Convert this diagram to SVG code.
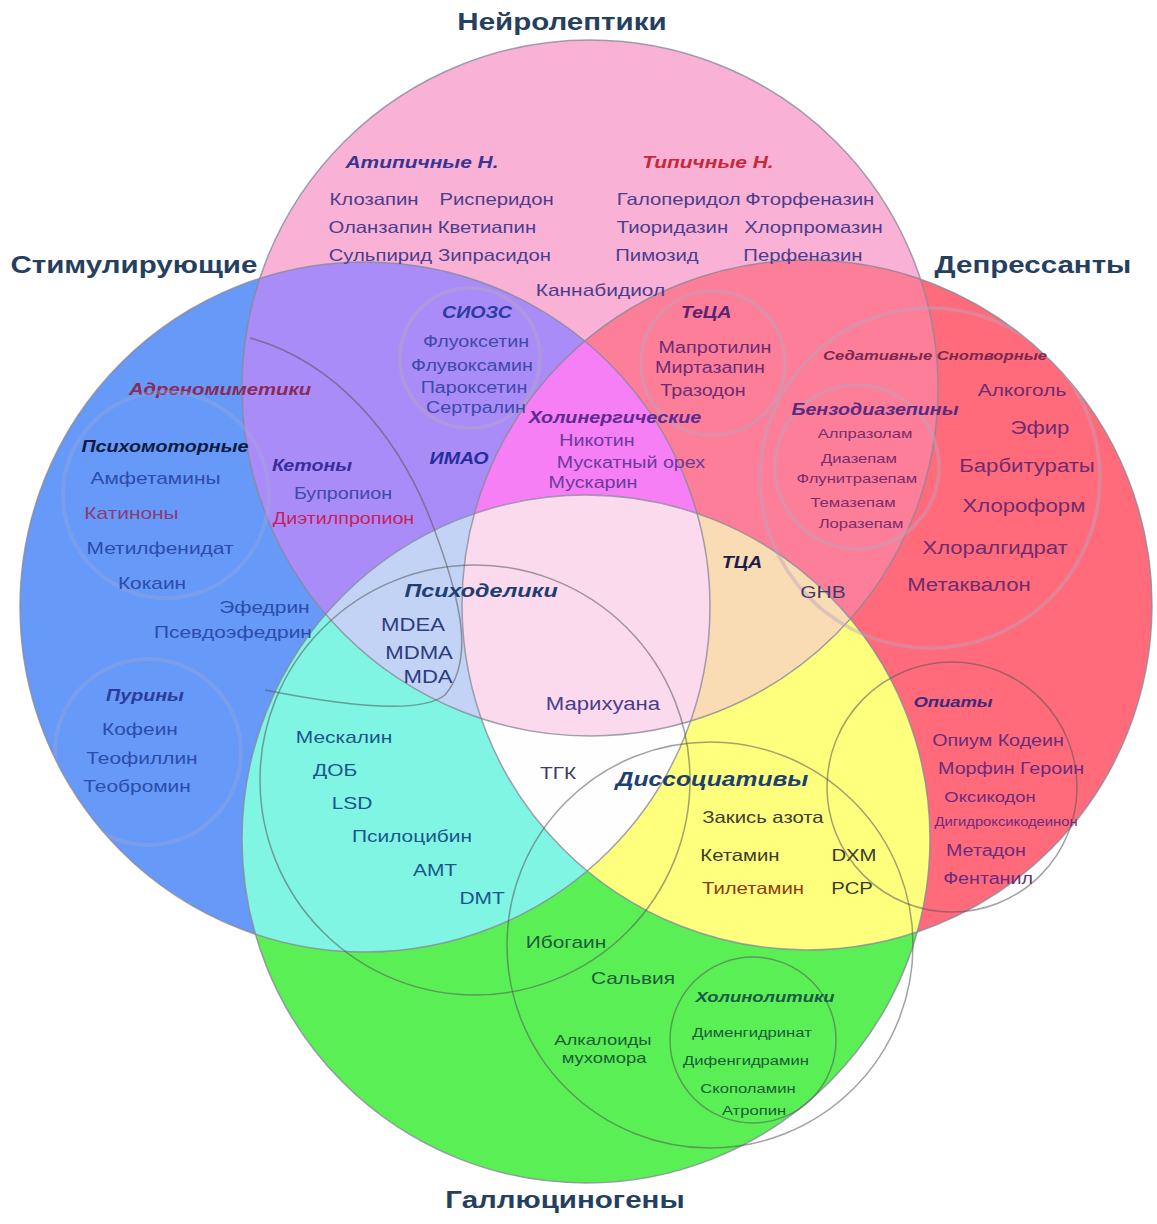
<svg xmlns="http://www.w3.org/2000/svg" width="1157" height="1224" viewBox="0 0 1157 1224">
<style>
text{font-family:"Liberation Sans",Arial,sans-serif;text-anchor:middle}
.h{font-weight:bold;font-style:italic}
.title{font-weight:bold;font-size:24px;fill:#263f5f}
.s12{font-size:12px}.s13{font-size:13.5px}.s15{font-size:15px}.s16{font-size:16px}.s165{font-size:16.5px}.s17{font-size:17px}.s18{font-size:18px}.s19{font-size:19px}.s20{font-size:20px}
.outline{fill:none;stroke:#8a8a9a;stroke-opacity:.8;stroke-width:1.5}
.ring{fill:none;stroke:rgb(185,165,190);stroke-opacity:.45;stroke-width:3.5}
.ringb{fill:none;stroke:rgb(160,170,215);stroke-opacity:.35;stroke-width:4}
.line{fill:none;stroke:#555;stroke-opacity:.55;stroke-width:1.5}
</style>
<defs>
<clipPath id="cP"><circle cx="590" cy="388" r="348"/></clipPath>
<clipPath id="cB"><circle cx="365" cy="607" r="345"/></clipPath>
<clipPath id="cR"><circle cx="807" cy="605" r="345"/></clipPath>
<clipPath id="cG"><circle cx="586" cy="839" r="344"/></clipPath>
</defs>
<rect width="1157" height="1224" fill="#ffffff"/>
<g id="regions">
<circle cx="590" cy="388" r="348" fill="#f9b2d5"/>
<circle cx="365" cy="607" r="345" fill="#6699f8"/>
<circle cx="807" cy="605" r="345" fill="#ff6b7b"/>
<circle cx="586" cy="839" r="344" fill="#5af055"/>
<g clip-path="url(#cB)"><circle cx="590" cy="388" r="348" fill="#aa8cf8"/></g>
<g clip-path="url(#cR)"><circle cx="590" cy="388" r="348" fill="#fd7e99"/></g>
<g clip-path="url(#cB)"><circle cx="586" cy="839" r="344" fill="#80f5e4"/></g>
<g clip-path="url(#cR)"><circle cx="586" cy="839" r="344" fill="#ffff7e"/></g>
<g clip-path="url(#cB)"><g clip-path="url(#cR)"><circle cx="590" cy="388" r="348" fill="#f77ff5"/></g></g>
<g clip-path="url(#cB)"><g clip-path="url(#cG)"><circle cx="590" cy="388" r="348" fill="#c3d3f6"/></g></g>
<g clip-path="url(#cR)"><g clip-path="url(#cG)"><circle cx="590" cy="388" r="348" fill="#fadcb4"/></g></g>
<g clip-path="url(#cB)"><g clip-path="url(#cR)"><circle cx="586" cy="839" r="344" fill="#fefefe"/></g></g>
<g clip-path="url(#cB)"><g clip-path="url(#cR)"><g clip-path="url(#cG)"><circle cx="590" cy="388" r="348" fill="#fcdaee"/></g></g></g>
</g>
<g id="outlines">
<circle class="outline" cx="590" cy="388" r="348"/>
<circle class="outline" cx="365" cy="607" r="345"/>
<circle class="outline" cx="807" cy="605" r="345"/>
<circle class="outline" cx="586" cy="839" r="344"/>
</g>
<g id="neuroleptics">
<g transform="scale(1.23 1)">
<text class="title" x="456.9" y="30">Нейролептики</text>
</g>
<g id="atypical" transform="scale(1.23 1)" fill="#4b3d8e">
<text class="h s17" x="343.1" y="168" fill="#3a3590">Атипичные Н.</text>
<text class="s165" x="304.1" y="205">Клозапин</text>
<text class="s165" x="403.7" y="205">Рисперидон</text>
<text class="s165" x="309.3" y="233">Оланзапин</text>
<text class="s165" x="395.9" y="233">Кветиапин</text>
<text class="s165" x="309.3" y="261">Сульпирид</text>
<text class="s165" x="402.0" y="261">Зипрасидон</text>
</g>
<g id="typical" transform="scale(1.23 1)" fill="#4b3d8e">
<text class="h s17" x="575.6" y="168" fill="#c8283c">Типичные Н.</text>
<text class="s165" x="551.8" y="205">Галоперидол</text>
<text class="s165" x="658.3" y="205">Фторфеназин</text>
<text class="s165" x="546.7" y="233">Тиоридазин</text>
<text class="s165" x="661.4" y="233">Хлорпромазин</text>
<text class="s165" x="534.1" y="261">Пимозид</text>
<text class="s165" x="652.8" y="261">Перфеназин</text>
</g>
<g transform="scale(1.23 1)" fill="#4b3d8e">
<text class="s17" x="488.2" y="296">Каннабидиол</text>
</g>
</g>
<g id="siozs">
<circle class="ring" cx="470" cy="358" r="70"/>
<g transform="scale(1.23 1)" fill="#3c4aa8">
<text class="h s16" x="387.8" y="318" fill="#2c3ca0">СИОЗС</text>
<text class="s16" x="387.0" y="347">Флуоксетин</text>
<text class="s16" x="383.7" y="371">Флувоксамин</text>
<text class="s16" x="385.4" y="393">Пароксетин</text>
<text class="s16" x="387.0" y="413">Сертралин</text>
</g>
</g>
<g id="teca">
<circle class="ring" cx="713" cy="363" r="72"/>
<g transform="scale(1.23 1)" fill="#6c2c74">
<text class="h s16" x="574.0" y="318" fill="#5a2470">ТеЦА</text>
<text class="s16" x="581.3" y="353">Мапротилин</text>
<text class="s16" x="577.2" y="373">Миртазапин</text>
<text class="s16" x="571.5" y="396">Тразодон</text>
</g>
</g>
<g id="imao" transform="scale(1.23 1)">
<text class="h s16" x="373.2" y="464" fill="#262e9c">ИМАО</text>
</g>
<g id="cholinergic" transform="scale(1.23 1)" fill="#6a3a9e">
<text class="h s16" x="500.0" y="423" fill="#5c2a90">Холинергические</text>
<text class="s16" x="485.4" y="446">Никотин</text>
<text class="s16" x="513.0" y="468">Мускатный орех</text>
<text class="s16" x="482.1" y="488">Мускарин</text>
</g>
<g id="depressants">
<g transform="scale(1.23 1)">
<text class="title" x="839.8" y="273">Депрессанты</text>
</g>
<g id="sedatives">
<circle class="ring" cx="930" cy="478" r="170" clip-path="url(#cR)"/>
<g transform="scale(1.23 1)" fill="#6e2c6e">
<text class="h s13" x="760.2" y="360" fill="#7a2850">Седативные Снотворные</text>
<text class="s17" x="830.9" y="396">Алкоголь</text>
<text class="s18" x="845.5" y="434">Эфир</text>
<text class="s18" x="835.0" y="472">Барбитураты</text>
<text class="s18" x="832.5" y="512">Хлороформ</text>
<text class="s18" x="809.0" y="554">Хлоралгидрат</text>
<text class="s18" x="787.8" y="591">Метаквалон</text>
<text class="s17" x="669.1" y="598" fill="#3c3c6c">GHB</text>
</g>
</g>
<g id="benzodiazepines">
<circle class="ring" cx="857" cy="467" r="82"/>
<g transform="scale(1.23 1)" fill="#7a2c6c">
<text class="h s16" x="711.4" y="415" fill="#5a2a7e">Бензодиазепины</text>
<text class="s13" x="703.3" y="438">Алпразолам</text>
<text class="s13" x="698.4" y="463">Диазепам</text>
<text class="s13" x="696.7" y="483">Флунитразепам</text>
<text class="s13" x="693.5" y="507">Темазепам</text>
<text class="s13" x="700.0" y="528">Лоразепам</text>
</g>
</g>
<g id="opiates">
<circle class="line" cx="952" cy="787" r="125"/>
<g transform="scale(1.23 1)" fill="#6a2c7c">
<text class="h s15" x="774.8" y="707" fill="#3c2a7c">Опиаты</text>
<text class="s16" x="811.4" y="746">Опиум Кодеин</text>
<text class="s16" x="822.0" y="774">Морфин Героин</text>
<text class="s15" x="804.9" y="802">Оксикодон</text>
<text class="s12" x="817.9" y="826">Дигидроксикодеинон</text>
<text class="s16" x="801.6" y="856">Метадон</text>
<text class="s16" x="803.3" y="884">Фентанил</text>
</g>
</g>
</g>
<g id="tca" transform="scale(1.23 1)">
<text class="h s16" x="603.3" y="568" fill="#1c1c4c">ТЦА</text>
</g>
<g id="stimulants">
<g transform="scale(1.23 1)">
<text class="title" x="108.9" y="273">Стимулирующие</text>
</g>
<g id="adrenomimetics">
<path class="line" d="M250 338 C330 360 400 430 437 537 C460 600 475 660 445 695 C420 715 340 705 265 690"/>
<g transform="scale(1.23 1)">
<text class="h s165" x="178.9" y="395" fill="#8a2a58">Адреномиметики</text>
<text class="s17" x="215.0" y="613" fill="#2c4caa">Эфедрин</text>
<text class="s17" x="189.4" y="638" fill="#2c4caa">Псевдоэфедрин</text>
</g>
</g>
<g id="psychomotor">
<circle class="ringb" cx="166" cy="495" r="103" clip-path="url(#cB)"/>
<g transform="scale(1.23 1)" fill="#2c4caa">
<text class="h s16" x="134.1" y="452" fill="#0f1a40">Психомоторные</text>
<text class="s17" x="126.4" y="484">Амфетамины</text>
<text class="s17" x="106.9" y="519" fill="#8c3c74">Катиноны</text>
<text class="s17" x="130.1" y="554">Метилфенидат</text>
<text class="s17" x="123.6" y="589">Кокаин</text>
</g>
</g>
<g id="ketones" transform="scale(1.23 1)">
<text class="h s16" x="253.7" y="471" fill="#3a2c9c">Кетоны</text>
<text class="s16" x="278.9" y="499" fill="#3c4aa8">Бупропион</text>
<text class="s16" x="279.3" y="524" fill="#c8205a">Диэтилпропион</text>
</g>
<g id="purines">
<circle class="ringb" cx="148" cy="752" r="93" clip-path="url(#cB)"/>
<g transform="scale(1.23 1)" fill="#2c4caa">
<text class="h s16" x="117.9" y="701" fill="#2c3c9c">Пурины</text>
<text class="s17" x="113.8" y="735">Кофеин</text>
<text class="s17" x="115.4" y="764">Теофиллин</text>
<text class="s17" x="111.4" y="792">Теобромин</text>
</g>
</g>
</g>
<g id="hallucinogens">
<g transform="scale(1.23 1)">
<text class="title" x="459.3" y="1208">Галлюциногены</text>
</g>
<g id="psychedelics">
<circle class="line" cx="475" cy="780" r="215"/>
<g transform="scale(1.23 1)" fill="#1a558a">
<text class="h s19" x="391.1" y="597" fill="#1f3f70">Психоделики</text>
<text class="s18" x="335.8" y="631" fill="#2c3c7c">MDEA</text>
<text class="s18" x="340.7" y="659" fill="#2c3c7c">MDMA</text>
<text class="s18" x="348.0" y="683" fill="#2c3c7c">MDA</text>
<text class="s18" x="490.2" y="710" fill="#4c3c8c">Марихуана</text>
<text class="s17" x="279.7" y="743">Мескалин</text>
<text class="s17" x="272.4" y="776">ДОБ</text>
<text class="s17" x="286.2" y="809">LSD</text>
<text class="s17" x="335.0" y="842">Псилоцибин</text>
<text class="s17" x="353.7" y="876">AMT</text>
<text class="s17" x="391.9" y="904">DMT</text>
<text class="s17" x="453.7" y="779" fill="#3c3c6c">ТГК</text>
</g>
</g>
<g id="dissociatives">
<circle class="line" cx="710" cy="945" r="203"/>
<g transform="scale(1.23 1)" fill="#3c3c2c">
<text class="h s20" x="578.9" y="786" fill="#1f3f70">Диссоциативы</text>
<text class="s165" x="620.3" y="823">Закись азота</text>
<text class="s165" x="601.6" y="861">Кетамин</text>
<text class="s165" x="694.3" y="861">DXM</text>
<text class="s165" x="612.2" y="894" fill="#8c3c10">Тилетамин</text>
<text class="s165" x="692.7" y="894">PCP</text>
<text class="s17" x="460.2" y="948" fill="#1c5c3a">Ибогаин</text>
<text class="s17" x="514.6" y="984" fill="#1c5c3a">Сальвия</text>
<text class="s15" x="490.2" y="1045" fill="#1c5c3a">Алкалоиды</text>
<text class="s15" x="491.1" y="1063" fill="#1c5c3a">мухомора</text>
</g>
</g>
<g id="anticholinergics">
<circle class="line" cx="753" cy="1040" r="83"/>
<g transform="scale(1.23 1)" fill="#1c5a3a">
<text class="h s15" x="622.0" y="1002" fill="#1a5a48">Холинолитики</text>
<text class="s13" x="611.4" y="1037">Дименгидринат</text>
<text class="s13" x="606.5" y="1065">Дифенгидрамин</text>
<text class="s13" x="608.1" y="1093">Скополамин</text>
<text class="s13" x="613.0" y="1115">Атропин</text>
</g>
</g>
</g>
</svg>
